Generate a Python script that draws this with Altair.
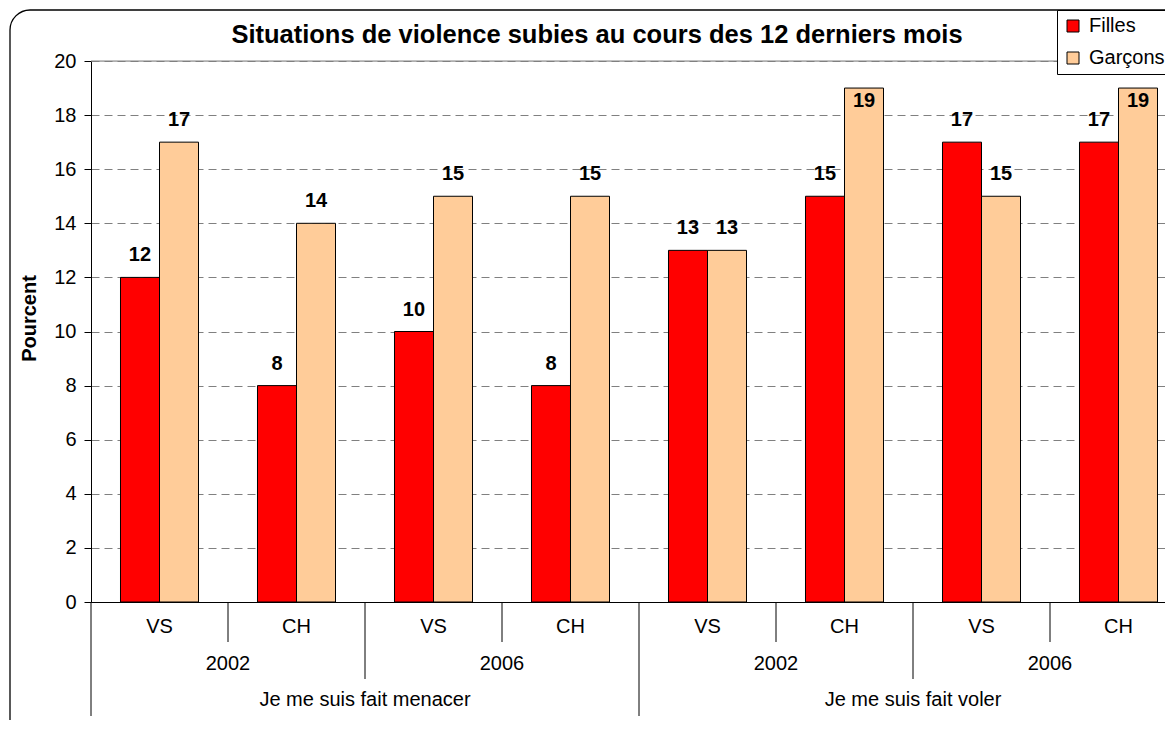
import altair as alt
import pandas as pd

situations = ["Je me suis fait menacer", "Je me suis fait voler"]
years = ["2002", "2006"]
regions = ["VS", "CH"]
sexes = ["Filles", "Garçons"]
filles = [12, 8, 10, 8, 13, 15, 17, 17]
garcons = [17, 14, 15, 15, 13, 19, 15, 19]
y_ticks = [0, 2, 4, 6, 8, 10, 12, 14, 16, 18, 20]
title_text = "Situations de violence subies au cours des 12 derniers mois"
y_title = "Pourcent"
colors = ["#FF0000", "#FFCC99"]

FONT = "Liberation Sans"
FS = 20

cat_rows = []
for s in situations:
    for yr in years:
        for r in regions:
            cat_rows.append({"cat": f"{s}|{yr}|{r}", "sit": s, "year": yr, "region": r})
cats = [c["cat"] for c in cat_rows]
df_cat = pd.DataFrame(cat_rows)
df_cat["idx"] = range(len(df_cat))

bar_rows = []
for i, c in enumerate(cats):
    bar_rows.append({"cat": c, "sex": sexes[0], "value": filles[i]})
    bar_rows.append({"cat": c, "sex": sexes[1], "value": garcons[i]})
df = pd.DataFrame(bar_rows)

W, H = 1096, 541
x_scale = alt.Scale(paddingInner=0, paddingOuter=0)

base = alt.Chart(df)
one = pd.DataFrame({"a": [0]})

frame = alt.Chart(one).mark_rect(
    fillOpacity=0, stroke="black", strokeWidth=1.3, cornerRadius=20
).encode(x=alt.value(-81), x2=alt.value(1300), y=alt.value(-51), y2=alt.value(800))

title_mark = alt.Chart(pd.DataFrame({"t": [title_text]})).mark_text(
    font=FONT, fontSize=25.5, fontWeight="bold", color="black", baseline="middle", align="center"
).encode(x=alt.value(506), y=alt.value(-26), text="t:N")

top_line = alt.Chart(one).mark_rule(color="#808080", strokeWidth=1).encode(y=alt.datum(20))

bars = base.mark_bar(stroke="black", strokeWidth=1).encode(
    x=alt.X("cat:N", sort=cats, scale=x_scale,
            axis=alt.Axis(labels=False, ticks=False, title=None, domainColor="black", grid=False)),
    xOffset=alt.XOffset("sex:N", sort=sexes, scale=alt.Scale(paddingOuter=0.756, paddingInner=0)),
    y=alt.Y("value:Q", scale=alt.Scale(domain=[0, 20], nice=False),
            axis=alt.Axis(values=y_ticks, title=y_title, grid=True, gridDash=[8, 5],
                          gridColor="#808080", domainColor="black", tickColor="black",
                          tickSize=7, labelFontSize=FS, labelFont=FONT, labelColor="black",
                          labelPadding=8, titleFont=FONT, titleFontSize=FS,
                          titleFontWeight="bold", titleColor="black", titlePadding=14,
                          titleY=257)),
    color=alt.Color("sex:N", sort=sexes, scale=alt.Scale(domain=sexes, range=colors),
                    legend=alt.Legend(orient="none", legendX=966, legendY=-51, title=None,
                                      strokeColor="black", fillColor="white", padding=6,
                                      symbolType="square", symbolSize=144,
                                      symbolStrokeColor="black", symbolStrokeWidth=1,
                                      labelFontSize=FS, labelFont=FONT, labelColor="black",
                                      rowPadding=12, labelOffset=6, cornerRadius=0)),
)

lab_common = dict(fontWeight="bold", fontSize=FS, font=FONT, color="black", baseline="middle")
labels_out = base.transform_filter(alt.datum.value < 19).mark_text(dy=-22, **lab_common).encode(
    x=alt.X("cat:N", sort=cats),
    xOffset=alt.XOffset("sex:N", sort=sexes),
    y=alt.Y("value:Q"),
    text=alt.Text("value:Q"),
)
labels_in = base.transform_filter(alt.datum.value >= 19).mark_text(dy=13, **lab_common).encode(
    x=alt.X("cat:N", sort=cats),
    xOffset=alt.XOffset("sex:N", sort=sexes),
    y=alt.Y("value:Q"),
    text=alt.Text("value:Q"),
)

cbase = alt.Chart(df_cat)
txt_common = dict(fontSize=FS, font=FONT, color="black", baseline="middle")
region_txt = cbase.mark_text(**txt_common).encode(
    x=alt.X("cat:N", sort=cats), y=alt.value(566), text="region:N")
year_txt = cbase.transform_filter(alt.datum.idx % 2 == 0).mark_text(**txt_common).encode(
    x=alt.X("cat:N", sort=cats, bandPosition=1), y=alt.value(603), text="year:N")
sit_txt = cbase.transform_filter(alt.datum.idx % 4 == 1).mark_text(**txt_common).encode(
    x=alt.X("cat:N", sort=cats, bandPosition=1), y=alt.value(639), text="sit:N")

rule_common = dict(color="black", strokeWidth=1)
sep1 = cbase.transform_filter(alt.datum.idx % 2 == 1).mark_rule(**rule_common).encode(
    x=alt.X("cat:N", sort=cats, bandPosition=0), y=alt.value(541), y2=alt.value(581))
sep2 = cbase.transform_filter(alt.datum.idx % 4 == 2).mark_rule(**rule_common).encode(
    x=alt.X("cat:N", sort=cats, bandPosition=0), y=alt.value(541), y2=alt.value(618))
sep3 = cbase.transform_filter(alt.datum.idx % 4 == 0).mark_rule(**rule_common).encode(
    x=alt.X("cat:N", sort=cats, bandPosition=0), y=alt.value(541), y2=alt.value(655))

chart = alt.layer(
    frame, bars, top_line, labels_out, labels_in, region_txt, year_txt, sit_txt,
    sep1, sep2, sep3, title_mark
).properties(
    width=W, height=H,
    autosize=alt.AutoSizeParams(type="none"),
    padding={"left": 83, "top": 53, "right": -22, "bottom": 118},
).configure_view(stroke=None).configure(background="white")

chart.save("out.html", embed_options={"renderer": "svg", "actions": False})
